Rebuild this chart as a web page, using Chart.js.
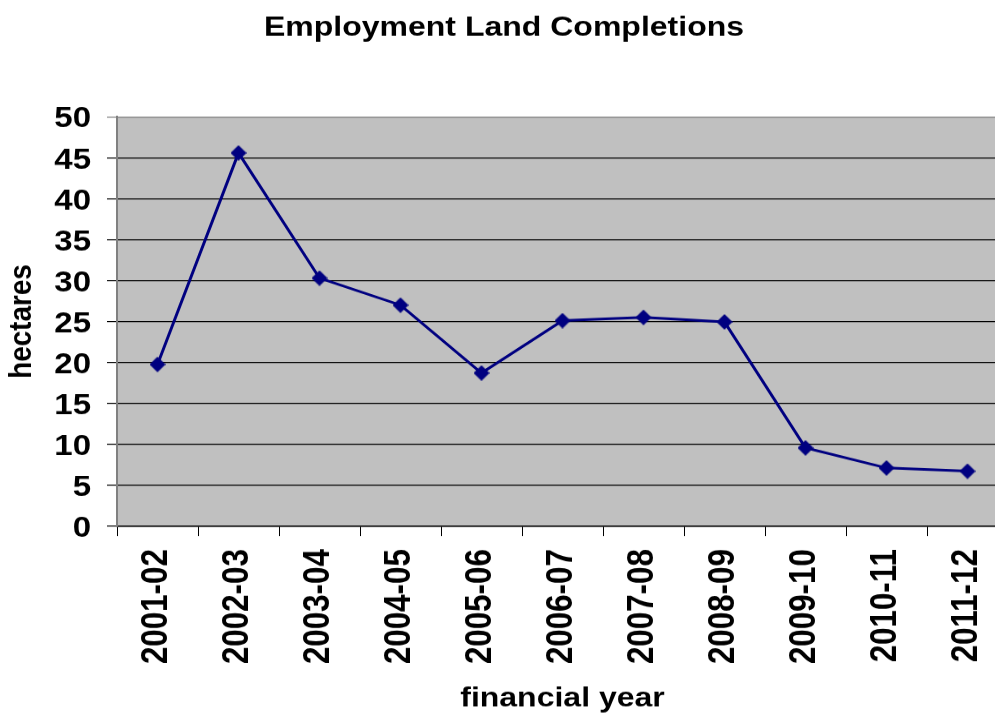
<!DOCTYPE html>
<html><head><meta charset="utf-8">
<script src="https://cdn.jsdelivr.net/npm/chart.js@4"></script>
<style>
html,body{margin:0;padding:0;background:#fff;overflow:hidden;}
#wrap{width:1008px;height:824px;transform:scale(1,0.87);transform-origin:0 0;}
canvas{display:block}
</style></head><body>
<div id="wrap"><canvas id="c" width="1008" height="824"></canvas></div>
<script>
const categories = ['2001-02','2002-03','2003-04','2004-05','2005-06','2006-07','2007-08','2008-09','2009-10','2010-11','2011-12'];
const hectares = [19.75, 45.6, 30.3, 27.0, 18.7, 25.1, 25.5, 24.95, 9.55, 7.1, 6.7];
const yTicks = [0, 5, 10, 15, 20, 25, 30, 35, 40, 45, 50];
const chartTitle = 'Employment Land Completions';
const xTitle = 'financial year';
const yTitle = 'hectares';

const FONT = 'Liberation Sans';

function diamond(w, h, color) {
  const c = document.createElement('canvas');
  c.width = w; c.height = h;
  const g = c.getContext('2d');
  g.fillStyle = color;
  g.beginPath();
  g.moveTo(w / 2, 0); g.lineTo(w, h / 2); g.lineTo(w / 2, h); g.lineTo(0, h / 2);
  g.closePath(); g.fill();
  return c;
}
const marker = diamond(16, 18, '#000080');

const plotBg = {
  id: 'plotBg',
  beforeDraw(chart) {
    const { ctx, chartArea: a } = chart;
    ctx.save();
    ctx.fillStyle = '#C0C0C0';
    ctx.fillRect(a.left, a.top, a.right - a.left, a.bottom - a.top);
    ctx.restore();
  }
};

new Chart(document.getElementById('c'), {
  type: 'line',
  data: {
    labels: categories,
    datasets: [{
      data: hectares,
      borderColor: '#000080',
      backgroundColor: '#000080',
      borderWidth: 3,
      pointStyle: marker,
      pointRadius: 9,
      tension: 0
    }]
  },
  plugins: [plotBg],
  options: {
    responsive: false,
    animation: false,
    layout: { padding: 0, autoPadding: false },
    plugins: {
      legend: { display: false },
      tooltip: { enabled: false },
      title: {
        display: true, text: chartTitle, color: '#000',
        font: { family: FONT, size: 32, weight: 'bold' },
        padding: { top: 12.5, bottom: 83.5 }
      }
    },
    scales: {
      x: {
        offset: true,
        grid: { offset: true, drawOnChartArea: false, drawTicks: true, tickLength: 11.5, color: '#000', lineWidth: 1 },
        border: { display: true, color: '#000', width: 1.5 },
        ticks: { maxRotation: 90, minRotation: 90, autoSkip: false, padding: 15, color: '#000',
                 font: { family: FONT, size: 36, weight: 'bold' } },
        title: { display: true, text: xTitle, color: '#000',
                 font: { family: FONT, size: 32, weight: 'bold' }, padding: { top: 0, bottom: 1.4 } },
        afterFit(s) { s.height = 219.4; s.paddingLeft = 0; s.paddingRight = 0; }
      },
      y: {
        min: 0, max: 50,
        afterBuildTicks(s) { s.ticks = yTicks.map(v => ({ value: v })); },
        grid: { color: (c) => (c.tick && c.tick.value === 50 ? '#808080' : '#000'), lineWidth: 1.2, tickLength: 10, drawTicks: true },
        border: { display: true, color: '#808080', width: 2 },
        ticks: { padding: 16, labelOffset: 3, color: '#000', font: { family: FONT, size: 33, weight: 'bold' } },
        title: { display: true, text: yTitle, color: '#000',
                 font: { family: FONT, size: 32, weight: 'bold' }, padding: { top: 3, bottom: 0 } },
        afterFit(s) { s.width = 117; }
      }
    }
  }
});
</script>
</body></html>
